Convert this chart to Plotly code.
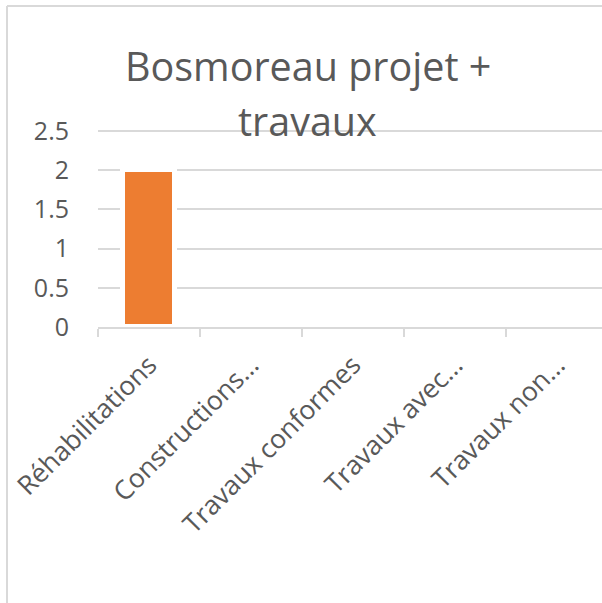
import plotly.graph_objects as go

# Données du graphique
categories = ["Réhabilitations", "Constructions…", "Travaux conformes", "Travaux avec…", "Travaux non…"]
values = [2, 0, 0, 0, 0]
y_ticks = [0, 0.5, 1, 1.5, 2, 2.5]
y_tick_labels = ["0", "0.5", "1", "1.5", "2", "2.5"]
title_lines = ["Bosmoreau projet +", "travaux"]

W, H = 602, 603
L, R, T, B = 98, 0, 129, 276
FONT = "Open Sans"
GREY = "#595959"
LINE = "#d9d9d9"

pw = W - L - R
ph = H - T - B
y_top = ph / (196 / 2.5)   # 2.5 doit tomber à y=131 px


def px_x(px):
    return (px - L) / pw


def px_y(py):
    return (H - B - py) / ph


fig = go.Figure()

fig.add_trace(go.Bar(
    x=categories,
    y=values,
    width=0.51,
    marker=dict(color="#ED7D31", line=dict(color="white", width=5)),
    showlegend=False,
))

# cadre du graphique (bords gauche et haut)
fig.add_shape(type="line", xref="paper", yref="paper",
              x0=px_x(7), x1=px_x(7), y0=px_y(610), y1=px_y(6),
              line=dict(color=LINE, width=2))
fig.add_shape(type="line", xref="paper", yref="paper",
              x0=px_x(7), x1=px_x(620), y0=px_y(6), y1=px_y(6),
              line=dict(color=LINE, width=2))

# titre sur deux lignes
for txt, py in zip(title_lines, [66, 121]):
    fig.add_annotation(
        text=txt, xref="paper", yref="paper",
        x=px_x(307.5), y=px_y(py), xanchor="center", yanchor="middle",
        showarrow=False,
        font=dict(family=FONT, size=39.5, color=GREY),
    )

fig.update_layout(
    width=W, height=H,
    margin=dict(l=L, r=R, t=T, b=B, pad=0),
    paper_bgcolor="white",
    plot_bgcolor="white",
    font=dict(family=FONT, color=GREY, size=25),
    bargap=0,
    xaxis=dict(
        range=[-0.5, 4.44],
        tickangle=-45,
        showline=True, linecolor=LINE, linewidth=2,
        ticks="outside", tickson="boundaries", ticklen=8,
        tickcolor=LINE, tickwidth=2,
        ticklabelstandoff=10,
        showgrid=False, automargin=False,
        tickfont=dict(size=26.5, color=GREY),
    ),
    yaxis=dict(
        range=[0, y_top],
        tickvals=y_ticks, ticktext=y_tick_labels,
        showgrid=True, gridcolor=LINE, gridwidth=2,
        zeroline=False, showline=False, automargin=False,
        ticks="", ticklabelstandoff=28,
        tickfont=dict(size=25, color=GREY),
    ),
)

fig.write_html("out.html", config={"displayModeBar": False},
               post_script="document.body.style.margin='0';")
